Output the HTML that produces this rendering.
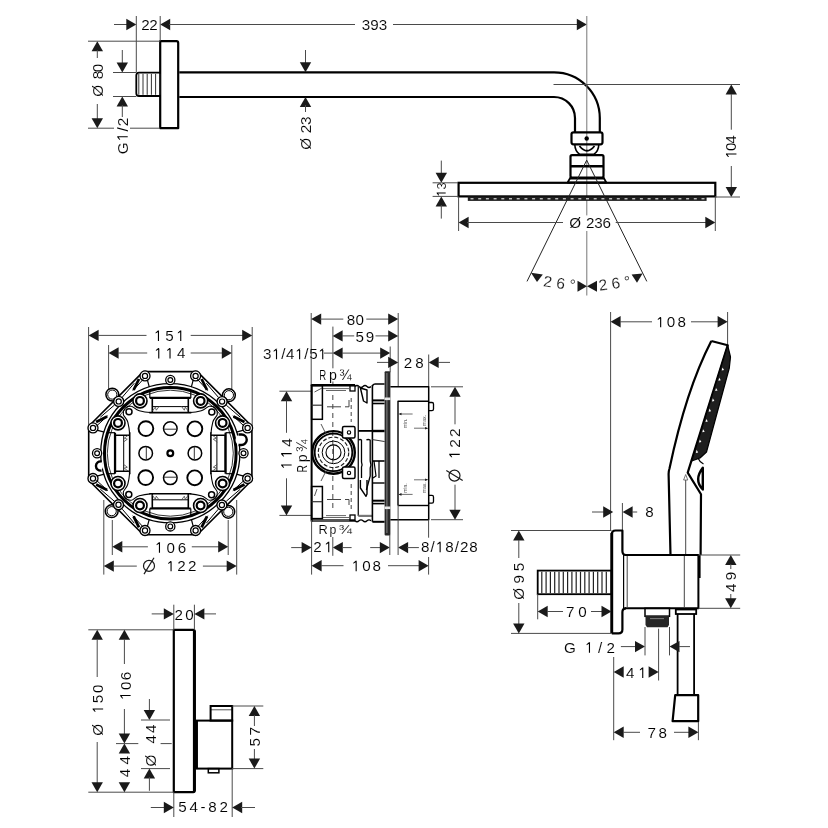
<!DOCTYPE html>
<html><head><meta charset="utf-8"><style>
html,body{margin:0;padding:0;background:#fff;width:828px;height:828px;overflow:hidden}
svg{display:block;will-change:transform}
text{font-family:"Liberation Sans",sans-serif;stroke:#fff;stroke-width:0.1px}
</style></head><body>
<svg width="828" height="828" viewBox="0 0 828 828">
<rect width="828" height="828" fill="#fff"/>
<path d="M160.2,128.2 V41.2 H176.5 Q178.2,41.2 178.2,43 V128.2 Z" stroke="#000" stroke-width="2.2" fill="none" stroke-linejoin="round" />
<path d="M160,72.6 H139 Q136.3,72.6 136.3,75.5 V93.2 Q136.3,96 139,96 H160" stroke="#000" stroke-width="1.8" fill="none" stroke-linejoin="round" />
<line x1="138.80" y1="73.80" x2="138.80" y2="94.80" stroke="#333" stroke-width="1.0"/>
<line x1="143.00" y1="73.80" x2="143.00" y2="94.80" stroke="#333" stroke-width="1.0"/>
<line x1="147.20" y1="73.80" x2="147.20" y2="94.80" stroke="#333" stroke-width="1.0"/>
<line x1="151.40" y1="73.80" x2="151.40" y2="94.80" stroke="#333" stroke-width="1.0"/>
<line x1="155.60" y1="73.80" x2="155.60" y2="94.80" stroke="#333" stroke-width="1.0"/>
<line x1="159.80" y1="73.80" x2="159.80" y2="94.80" stroke="#333" stroke-width="1.0"/>
<path d="M179.3,72.3 H554 A45.8,45.8 0 0 1 599.8,118 V132" stroke="#000" stroke-width="2.2" fill="none" stroke-linejoin="round" />
<path d="M179.3,97 H554 A21,21 0 0 1 575,118 V132" stroke="#000" stroke-width="2.2" fill="none" stroke-linejoin="round" />
<line x1="114.00" y1="24.50" x2="127.00" y2="24.50" stroke="#4a4a4a" stroke-width="1.0"/>
<path d="M136.30,24.50 L126.30,30.20 L126.30,18.80 Z" fill="#1a1a1a"/>
<text x="141.14" y="30.44" font-size="15.2" fill="#000" letter-spacing="-0.382">22</text>
<path d="M160.20,24.50 L170.20,18.80 L170.20,30.20 Z" fill="#1a1a1a"/>
<line x1="169.00" y1="24.50" x2="355.00" y2="24.50" stroke="#4a4a4a" stroke-width="1.0"/>
<text x="361.82" y="30.24" font-size="15.2" fill="#000">393</text>
<line x1="393.00" y1="24.50" x2="578.00" y2="24.50" stroke="#4a4a4a" stroke-width="1.0"/>
<path d="M586.80,24.50 L576.80,30.20 L576.80,18.80 Z" fill="#1a1a1a"/>
<line x1="136.30" y1="16.00" x2="136.30" y2="72.50" stroke="#4a4a4a" stroke-width="1.0"/>
<line x1="160.20" y1="16.00" x2="160.20" y2="41.00" stroke="#4a4a4a" stroke-width="1.0"/>
<line x1="586.80" y1="16.00" x2="586.80" y2="215.40" stroke="#777" stroke-width="1"/>
<line x1="586.80" y1="231.00" x2="586.80" y2="295.50" stroke="#777" stroke-width="1"/>
<line x1="553.50" y1="84.50" x2="740.00" y2="84.50" stroke="#4a4a4a" stroke-width="1.0"/>
<path d="M97.30,41.20 L103.00,51.20 L91.60,51.20 Z" fill="#1a1a1a"/>
<line x1="97.30" y1="50.00" x2="97.30" y2="58.00" stroke="#4a4a4a" stroke-width="1.0"/>
<line x1="97.30" y1="104.00" x2="97.30" y2="119.00" stroke="#4a4a4a" stroke-width="1.0"/>
<path d="M97.30,128.20 L91.60,118.20 L103.00,118.20 Z" fill="#1a1a1a"/>
<line x1="88.00" y1="41.20" x2="160.00" y2="41.20" stroke="#4a4a4a" stroke-width="1.0"/>
<line x1="88.00" y1="128.20" x2="114.00" y2="128.20" stroke="#4a4a4a" stroke-width="1.0"/>
<line x1="130.00" y1="128.20" x2="160.00" y2="128.20" stroke="#4a4a4a" stroke-width="1.0"/>
<text x="97.05" y="83.74" font-size="15.2" fill="#000" letter-spacing="-1.656" transform="rotate(-90 97.70 78.50)">80</text>
<text x="97.17" y="101.44" font-size="15.2" fill="#000" transform="rotate(-90 97.70 96.20)">Ø</text>
<line x1="122.30" y1="50.00" x2="122.30" y2="63.00" stroke="#4a4a4a" stroke-width="1.0"/>
<path d="M122.30,72.50 L116.60,62.50 L128.00,62.50 Z" fill="#1a1a1a"/>
<path d="M122.30,96.50 L128.00,106.50 L116.60,106.50 Z" fill="#1a1a1a"/>
<line x1="122.30" y1="105.00" x2="122.30" y2="117.00" stroke="#4a4a4a" stroke-width="1.0"/>
<line x1="113.00" y1="72.50" x2="136.30" y2="72.50" stroke="#4a4a4a" stroke-width="1.0"/>
<line x1="113.00" y1="96.50" x2="136.30" y2="96.50" stroke="#4a4a4a" stroke-width="1.0"/>
<text x="121.74" y="158.64" font-size="15.2" fill="#000" letter-spacing="1.155" transform="rotate(-90 122.50 153.40)">G /2</text>
<path d="M138.53,158.64 h1.12 v-10.46 h-1.12 Z M139.87,148.19 L138.53,148.19 L136.24,150.21 L136.24,151.20 L138.67,149.68 Z" fill="#000" transform="rotate(-90 122.50 153.40)"/>
<line x1="305.50" y1="50.00" x2="305.50" y2="63.00" stroke="#4a4a4a" stroke-width="1.0"/>
<path d="M305.50,72.30 L299.80,62.30 L311.20,62.30 Z" fill="#1a1a1a"/>
<path d="M305.50,97.00 L311.20,107.00 L299.80,107.00 Z" fill="#1a1a1a"/>
<line x1="305.50" y1="105.00" x2="305.50" y2="112.00" stroke="#4a4a4a" stroke-width="1.0"/>
<text x="304.94" y="137.74" font-size="15.2" fill="#000" letter-spacing="-0.274" transform="rotate(-90 305.70 132.50)">23</text>
<text x="305.17" y="154.34" font-size="15.2" fill="#000" transform="rotate(-90 305.70 149.10)">Ø</text>
<rect x="571.50" y="132.30" width="31.00" height="12.00" rx="2" stroke="#000" stroke-width="2.2" fill="none"/>
<circle cx="586.70" cy="138.50" r="2.20" stroke="#000" stroke-width="0" fill="#000"/>
<path d="M574.8,144.5 Q575,151 579.5,154.2 H594 Q598.6,151 598.8,144.5" stroke="#000" stroke-width="1.6" fill="none" stroke-linejoin="round" />
<path d="M579.5,146 Q587,155.5 594.5,146" stroke="#000" stroke-width="1.8" fill="none" stroke-linejoin="round" />
<rect x="570.50" y="155.20" width="33.00" height="22.40" rx="1.5" stroke="#000" stroke-width="2.2" fill="none"/>
<line x1="570.50" y1="166.20" x2="603.50" y2="166.20" stroke="#000" stroke-width="2.6"/>
<path d="M570.5,177.4 L567.6,182.5 H606.3 L603.5,177.4" stroke="#000" stroke-width="1.8" fill="none" stroke-linejoin="round" />
<line x1="570.00" y1="178.60" x2="604.00" y2="178.60" stroke="#000" stroke-width="1.6"/>
<rect x="458.60" y="182.80" width="256.70" height="13.60" rx="0" stroke="#000" stroke-width="2.2" fill="none"/>
<rect x="467.8" y="196.5" width="238.8" height="4.4" fill="#1e1e1e"/>
<rect x="470.5" y="198.1" width="3" height="1.3" fill="#ccc"/>
<rect x="478.2" y="198.1" width="3" height="1.3" fill="#ccc"/>
<rect x="485.9" y="198.1" width="3" height="1.3" fill="#ccc"/>
<rect x="493.6" y="198.1" width="3" height="1.3" fill="#ccc"/>
<rect x="501.3" y="198.1" width="3" height="1.3" fill="#ccc"/>
<rect x="509.0" y="198.1" width="3" height="1.3" fill="#ccc"/>
<rect x="516.7" y="198.1" width="3" height="1.3" fill="#ccc"/>
<rect x="524.4" y="198.1" width="3" height="1.3" fill="#ccc"/>
<rect x="532.1" y="198.1" width="3" height="1.3" fill="#ccc"/>
<rect x="539.8" y="198.1" width="3" height="1.3" fill="#ccc"/>
<rect x="547.5" y="198.1" width="3" height="1.3" fill="#ccc"/>
<rect x="555.2" y="198.1" width="3" height="1.3" fill="#ccc"/>
<rect x="562.9" y="198.1" width="3" height="1.3" fill="#ccc"/>
<rect x="570.6" y="198.1" width="3" height="1.3" fill="#ccc"/>
<rect x="578.3" y="198.1" width="3" height="1.3" fill="#ccc"/>
<rect x="586.0" y="198.1" width="3" height="1.3" fill="#ccc"/>
<rect x="593.7" y="198.1" width="3" height="1.3" fill="#ccc"/>
<rect x="601.4" y="198.1" width="3" height="1.3" fill="#ccc"/>
<rect x="609.1" y="198.1" width="3" height="1.3" fill="#ccc"/>
<rect x="616.8" y="198.1" width="3" height="1.3" fill="#ccc"/>
<rect x="624.5" y="198.1" width="3" height="1.3" fill="#ccc"/>
<rect x="632.2" y="198.1" width="3" height="1.3" fill="#ccc"/>
<rect x="639.9" y="198.1" width="3" height="1.3" fill="#ccc"/>
<rect x="647.6" y="198.1" width="3" height="1.3" fill="#ccc"/>
<rect x="655.3" y="198.1" width="3" height="1.3" fill="#ccc"/>
<rect x="663.0" y="198.1" width="3" height="1.3" fill="#ccc"/>
<rect x="670.7" y="198.1" width="3" height="1.3" fill="#ccc"/>
<rect x="678.4" y="198.1" width="3" height="1.3" fill="#ccc"/>
<rect x="686.1" y="198.1" width="3" height="1.3" fill="#ccc"/>
<rect x="693.8" y="198.1" width="3" height="1.3" fill="#ccc"/>
<rect x="701.5" y="198.1" width="3" height="1.3" fill="#ccc"/>
<line x1="586.70" y1="160.20" x2="527.00" y2="281.40" stroke="#222" stroke-width="1"/>
<line x1="586.70" y1="160.20" x2="646.80" y2="281.40" stroke="#222" stroke-width="1"/>
<line x1="441.30" y1="160.60" x2="441.30" y2="174.00" stroke="#4a4a4a" stroke-width="1.0"/>
<path d="M441.30,182.80 L435.60,172.80 L447.00,172.80 Z" fill="#1a1a1a"/>
<path d="M441.30,196.40 L447.00,206.40 L435.60,206.40 Z" fill="#1a1a1a"/>
<line x1="441.30" y1="205.00" x2="441.30" y2="218.60" stroke="#4a4a4a" stroke-width="1.0"/>
<line x1="432.60" y1="182.80" x2="458.00" y2="182.80" stroke="#4a4a4a" stroke-width="1.0"/>
<line x1="432.60" y1="196.40" x2="458.00" y2="196.40" stroke="#4a4a4a" stroke-width="1.0"/>
<text x="439.90" y="199.88" font-size="13" fill="#000" letter-spacing="-0.084" transform="rotate(-90 441.20 195.40)"> 3</text>
<path d="M443.16,199.88 h0.96 v-8.94 h-0.96 Z M444.31,190.94 L443.16,190.94 L441.20,192.67 L441.20,193.51 L443.28,192.22 Z" fill="#000" transform="rotate(-90 441.20 195.40)"/>
<path d="M458.60,222.50 L468.60,216.80 L468.60,228.20 Z" fill="#1a1a1a"/>
<line x1="467.00" y1="222.50" x2="563.00" y2="222.50" stroke="#4a4a4a" stroke-width="1.0"/>
<text x="569.27" y="228.14" font-size="15.2" fill="#000">Ø</text>
<text x="586.04" y="228.14" font-size="15.2" fill="#000" letter-spacing="-0.162">236</text>
<line x1="615.70" y1="222.50" x2="706.00" y2="222.50" stroke="#4a4a4a" stroke-width="1.0"/>
<path d="M715.30,222.50 L705.30,228.20 L705.30,216.80 Z" fill="#1a1a1a"/>
<line x1="458.60" y1="196.40" x2="458.60" y2="231.00" stroke="#4a4a4a" stroke-width="1.0"/>
<line x1="715.30" y1="196.40" x2="715.30" y2="231.00" stroke="#4a4a4a" stroke-width="1.0"/>
<path d="M731.30,84.50 L737.00,94.50 L725.60,94.50 Z" fill="#1a1a1a"/>
<line x1="731.30" y1="94.00" x2="731.30" y2="129.70" stroke="#4a4a4a" stroke-width="1.0"/>
<line x1="731.30" y1="166.00" x2="731.30" y2="188.00" stroke="#4a4a4a" stroke-width="1.0"/>
<path d="M731.30,197.00 L725.60,187.00 L737.00,187.00 Z" fill="#1a1a1a"/>
<line x1="715.00" y1="197.00" x2="740.00" y2="197.00" stroke="#4a4a4a" stroke-width="1.0"/>
<text x="729.68" y="162.14" font-size="15.2" fill="#000" letter-spacing="-1.096" transform="rotate(-90 731.20 156.90)"> 04</text>
<path d="M733.50,162.14 h1.12 v-10.46 h-1.12 Z M734.83,151.69 L733.50,151.69 L731.20,153.71 L731.20,154.70 L733.63,153.18 Z" fill="#000" transform="rotate(-90 731.20 156.90)"/>
<path d="M531.00,272.70 L542.80,274.40 L537.00,282.00 Z" fill="#1a1a1a"/>
<path d="M631.60,274.40 L642.60,273.50 L637.00,282.80 Z" fill="#1a1a1a"/>
<path d="M577.50,280.70 L577.50,291.70 L587.00,286.20 Z" fill="#1a1a1a"/>
<path d="M597.00,280.70 L597.00,291.70 L587.00,286.20 Z" fill="#1a1a1a"/>
<text x="559.50" y="288.55" font-size="15.5" text-anchor="middle" fill="#1a1a1a" transform="rotate(8 559.50 283.00)">2 6 °</text>
<text x="614.50" y="288.55" font-size="15.5" text-anchor="middle" fill="#1a1a1a" transform="rotate(-8 614.50 283.00)">2 6 °</text>
<line x1="88.60" y1="327.00" x2="88.60" y2="426.00" stroke="#4a4a4a" stroke-width="1.0"/>
<line x1="252.20" y1="327.00" x2="252.20" y2="426.00" stroke="#4a4a4a" stroke-width="1.0"/>
<path d="M88.60,335.40 L98.60,329.70 L98.60,341.10 Z" fill="#1a1a1a"/>
<line x1="98.00" y1="335.40" x2="146.50" y2="335.40" stroke="#4a4a4a" stroke-width="1.0"/>
<text x="154.08" y="340.94" font-size="15.2" fill="#000" letter-spacing="2.686"> 5 </text>
<path d="M157.90,340.94 h1.12 v-10.46 h-1.12 Z M159.23,330.49 L157.90,330.49 L155.60,332.51 L155.60,333.50 L158.03,331.98 Z M180.18,340.94 h1.12 v-10.46 h-1.12 Z M181.51,330.49 L180.18,330.49 L177.88,332.51 L177.88,333.50 L180.31,331.98 Z" fill="#000"/>
<line x1="190.70" y1="335.40" x2="243.00" y2="335.40" stroke="#4a4a4a" stroke-width="1.0"/>
<path d="M252.20,335.40 L242.20,341.10 L242.20,329.70 Z" fill="#1a1a1a"/>
<line x1="108.60" y1="345.00" x2="108.60" y2="390.00" stroke="#4a4a4a" stroke-width="1.0"/>
<line x1="231.80" y1="345.00" x2="231.80" y2="390.00" stroke="#4a4a4a" stroke-width="1.0"/>
<path d="M108.60,353.00 L118.60,347.30 L118.60,358.70 Z" fill="#1a1a1a"/>
<line x1="118.00" y1="353.00" x2="147.20" y2="353.00" stroke="#4a4a4a" stroke-width="1.0"/>
<text x="154.38" y="358.44" font-size="15.2" fill="#000" letter-spacing="2.816">  4</text>
<path d="M158.20,358.44 h1.12 v-10.46 h-1.12 Z M159.53,347.99 L158.20,347.99 L155.90,350.01 L155.90,351.00 L158.33,349.48 Z M169.46,358.44 h1.12 v-10.46 h-1.12 Z M170.80,347.99 L169.46,347.99 L167.17,350.01 L167.17,351.00 L169.60,349.48 Z" fill="#000"/>
<line x1="190.70" y1="353.00" x2="222.00" y2="353.00" stroke="#4a4a4a" stroke-width="1.0"/>
<path d="M231.80,353.00 L221.80,358.70 L221.80,347.30 Z" fill="#1a1a1a"/>
<line x1="112.30" y1="520.00" x2="112.30" y2="555.00" stroke="#4a4a4a" stroke-width="1.0"/>
<line x1="228.20" y1="520.00" x2="228.20" y2="555.00" stroke="#4a4a4a" stroke-width="1.0"/>
<path d="M112.30,546.80 L122.30,541.10 L122.30,552.50 Z" fill="#1a1a1a"/>
<line x1="121.00" y1="546.80" x2="147.90" y2="546.80" stroke="#4a4a4a" stroke-width="1.0"/>
<text x="155.08" y="552.74" font-size="15.2" fill="#000" letter-spacing="2.918"> 06</text>
<path d="M158.90,552.74 h1.12 v-10.46 h-1.12 Z M160.23,542.29 L158.90,542.29 L156.60,544.31 L156.60,545.30 L159.03,543.78 Z" fill="#000"/>
<line x1="191.80" y1="546.80" x2="219.00" y2="546.80" stroke="#4a4a4a" stroke-width="1.0"/>
<path d="M228.20,546.80 L218.20,552.50 L218.20,541.10 Z" fill="#1a1a1a"/>
<line x1="103.80" y1="500.00" x2="103.80" y2="574.60" stroke="#4a4a4a" stroke-width="1.0"/>
<line x1="236.70" y1="500.00" x2="236.70" y2="574.60" stroke="#4a4a4a" stroke-width="1.0"/>
<path d="M103.80,566.10 L113.80,560.40 L113.80,571.80 Z" fill="#1a1a1a"/>
<line x1="113.00" y1="566.10" x2="136.80" y2="566.10" stroke="#4a4a4a" stroke-width="1.0"/>
<circle cx="149.00" cy="565.90" r="5.5" stroke="#1a1a1a" stroke-width="1.2" fill="none"/>
<line x1="144.00" y1="574.10" x2="154.00" y2="557.70" stroke="#1a1a1a" stroke-width="1.2"/>
<text x="166.68" y="571.34" font-size="15.2" fill="#000" letter-spacing="2.213"> 22</text>
<path d="M170.50,571.34 h1.12 v-10.46 h-1.12 Z M171.83,560.89 L170.50,560.89 L168.20,562.91 L168.20,563.90 L170.63,562.38 Z" fill="#000"/>
<line x1="202.90" y1="566.10" x2="227.00" y2="566.10" stroke="#4a4a4a" stroke-width="1.0"/>
<path d="M236.70,566.10 L226.70,571.80 L226.70,560.40 Z" fill="#1a1a1a"/>
<g transform="rotate(0 170.3 453.2)">
<circle cx="112.30" cy="394.60" r="6.40" stroke="#000" stroke-width="1.5" fill="#fff"/>
<circle cx="112.30" cy="394.60" r="4.60" stroke="#000" stroke-width="1.0" fill="none"/>
</g>
<g transform="rotate(90 170.3 453.2)">
<circle cx="112.30" cy="394.60" r="6.40" stroke="#000" stroke-width="1.5" fill="#fff"/>
<circle cx="112.30" cy="394.60" r="4.60" stroke="#000" stroke-width="1.0" fill="none"/>
</g>
<g transform="rotate(180 170.3 453.2)">
<circle cx="112.30" cy="394.60" r="6.40" stroke="#000" stroke-width="1.5" fill="#fff"/>
<circle cx="112.30" cy="394.60" r="4.60" stroke="#000" stroke-width="1.0" fill="none"/>
</g>
<g transform="rotate(270 170.3 453.2)">
<circle cx="112.30" cy="394.60" r="6.40" stroke="#000" stroke-width="1.5" fill="#fff"/>
<circle cx="112.30" cy="394.60" r="4.60" stroke="#000" stroke-width="1.0" fill="none"/>
</g>
<path d="M143.30,371.60 L197.30,371.60 L251.90,426.20 L251.90,480.20 L197.30,534.80 L143.30,534.80 L88.70,480.20 L88.70,426.20 Z" stroke="#000" stroke-width="1.6" fill="#fff" stroke-linejoin="round" />
<circle cx="170.30" cy="453.20" r="65.80" stroke="#000" stroke-width="3.0" fill="none"/>
<circle cx="170.30" cy="453.20" r="69.60" stroke="#000" stroke-width="1.3" fill="none"/>
<circle cx="170.30" cy="453.20" r="63.00" stroke="#000" stroke-width="0.8" fill="none"/>
<g transform="rotate(0 170.3 453.2)">
<circle cx="170.30" cy="380.00" r="4.60" stroke="#000" stroke-width="1.3" fill="#fff"/>
<circle cx="170.30" cy="380.00" r="2.40" stroke="#000" stroke-width="1.2" fill="none"/>
<path d="M149.3,412.59999999999997 H191.3 M152.3,412.59999999999997 V398.2 H188.3 V412.59999999999997" stroke="#000" stroke-width="1.6" fill="none" stroke-linejoin="round" />
<line x1="149.80" y1="397.90" x2="190.80" y2="397.90" stroke="#000" stroke-width="2.2"/>
<line x1="152.30" y1="406.60" x2="188.30" y2="406.60" stroke="#000" stroke-width="1.0"/>
<line x1="149.80" y1="391.20" x2="149.80" y2="397.90" stroke="#000" stroke-width="1.2"/>
<line x1="190.80" y1="391.20" x2="190.80" y2="397.90" stroke="#000" stroke-width="1.2"/>
<circle cx="145.90" cy="428.60" r="7.40" stroke="#000" stroke-width="1.9" fill="none"/>
<circle cx="170.30" cy="428.60" r="6.80" stroke="#000" stroke-width="1.5" fill="none"/>
<line x1="163.80" y1="429.20" x2="176.80" y2="429.20" stroke="#333" stroke-width="1.0"/>
</g>
<g transform="rotate(90 170.3 453.2)">
<circle cx="170.30" cy="380.00" r="4.60" stroke="#000" stroke-width="1.3" fill="#fff"/>
<circle cx="170.30" cy="380.00" r="2.40" stroke="#000" stroke-width="1.2" fill="none"/>
<path d="M149.3,412.59999999999997 H191.3 M152.3,412.59999999999997 V398.2 H188.3 V412.59999999999997" stroke="#000" stroke-width="1.6" fill="none" stroke-linejoin="round" />
<line x1="149.80" y1="397.90" x2="190.80" y2="397.90" stroke="#000" stroke-width="2.2"/>
<line x1="152.30" y1="406.60" x2="188.30" y2="406.60" stroke="#000" stroke-width="1.0"/>
<line x1="149.80" y1="391.20" x2="149.80" y2="397.90" stroke="#000" stroke-width="1.2"/>
<line x1="190.80" y1="391.20" x2="190.80" y2="397.90" stroke="#000" stroke-width="1.2"/>
<circle cx="145.90" cy="428.60" r="7.40" stroke="#000" stroke-width="1.9" fill="none"/>
<circle cx="170.30" cy="428.60" r="6.80" stroke="#000" stroke-width="1.5" fill="none"/>
<line x1="163.80" y1="429.20" x2="176.80" y2="429.20" stroke="#333" stroke-width="1.0"/>
</g>
<g transform="rotate(180 170.3 453.2)">
<circle cx="170.30" cy="380.00" r="4.60" stroke="#000" stroke-width="1.3" fill="#fff"/>
<circle cx="170.30" cy="380.00" r="2.40" stroke="#000" stroke-width="1.2" fill="none"/>
<path d="M149.3,412.59999999999997 H191.3 M152.3,412.59999999999997 V398.2 H188.3 V412.59999999999997" stroke="#000" stroke-width="1.6" fill="none" stroke-linejoin="round" />
<line x1="149.80" y1="397.90" x2="190.80" y2="397.90" stroke="#000" stroke-width="2.2"/>
<line x1="152.30" y1="406.60" x2="188.30" y2="406.60" stroke="#000" stroke-width="1.0"/>
<line x1="149.80" y1="391.20" x2="149.80" y2="397.90" stroke="#000" stroke-width="1.2"/>
<line x1="190.80" y1="391.20" x2="190.80" y2="397.90" stroke="#000" stroke-width="1.2"/>
<circle cx="145.90" cy="428.60" r="7.40" stroke="#000" stroke-width="1.9" fill="none"/>
<circle cx="170.30" cy="428.60" r="6.80" stroke="#000" stroke-width="1.5" fill="none"/>
<line x1="163.80" y1="429.20" x2="176.80" y2="429.20" stroke="#333" stroke-width="1.0"/>
</g>
<g transform="rotate(270 170.3 453.2)">
<circle cx="170.30" cy="380.00" r="4.60" stroke="#000" stroke-width="1.3" fill="#fff"/>
<circle cx="170.30" cy="380.00" r="2.40" stroke="#000" stroke-width="1.2" fill="none"/>
<path d="M149.3,412.59999999999997 H191.3 M152.3,412.59999999999997 V398.2 H188.3 V412.59999999999997" stroke="#000" stroke-width="1.6" fill="none" stroke-linejoin="round" />
<line x1="149.80" y1="397.90" x2="190.80" y2="397.90" stroke="#000" stroke-width="2.2"/>
<line x1="152.30" y1="406.60" x2="188.30" y2="406.60" stroke="#000" stroke-width="1.0"/>
<line x1="149.80" y1="391.20" x2="149.80" y2="397.90" stroke="#000" stroke-width="1.2"/>
<line x1="190.80" y1="391.20" x2="190.80" y2="397.90" stroke="#000" stroke-width="1.2"/>
<circle cx="145.90" cy="428.60" r="7.40" stroke="#000" stroke-width="1.9" fill="none"/>
<circle cx="170.30" cy="428.60" r="6.80" stroke="#000" stroke-width="1.5" fill="none"/>
<line x1="163.80" y1="429.20" x2="176.80" y2="429.20" stroke="#333" stroke-width="1.0"/>
</g>
<g transform="rotate(0 170.3 453.2)">
<circle cx="118.70" cy="401.40" r="5.00" stroke="#000" stroke-width="1.4" fill="#fff"/>
<circle cx="118.70" cy="401.40" r="2.60" stroke="#000" stroke-width="1.2" fill="none"/>
<circle cx="145.00" cy="375.90" r="5.00" stroke="#000" stroke-width="1.3" fill="#fff"/>
<circle cx="145.00" cy="375.90" r="2.60" stroke="#000" stroke-width="1.2" fill="none"/>
<circle cx="93.00" cy="427.90" r="5.00" stroke="#000" stroke-width="1.3" fill="#fff"/>
<circle cx="93.00" cy="427.90" r="2.60" stroke="#000" stroke-width="1.2" fill="none"/>
<line x1="147.30" y1="379.70" x2="149.30" y2="387.20" stroke="#000" stroke-width="1.2"/>
<line x1="96.80" y1="430.20" x2="104.30" y2="432.20" stroke="#000" stroke-width="1.2"/>
<line x1="139.00" y1="379.00" x2="133.60" y2="390.00" stroke="#000" stroke-width="2.8"/>
<line x1="96.10" y1="421.90" x2="107.10" y2="416.50" stroke="#000" stroke-width="2.8"/>
<path d="M143.3,379.2 L132.8,390.7 M96.30000000000001,426.2 L107.80000000000001,415.7" stroke="#000" stroke-width="1.0" fill="none" stroke-linejoin="round" />
<path d="M122.30000000000001,397.2 L134.3,383.2 M114.30000000000001,405.2 L100.30000000000001,417.2" stroke="#000" stroke-width="1.0" fill="none" stroke-linejoin="round" />
<circle cx="140.00" cy="400.90" r="7.00" stroke="#000" stroke-width="1.6" fill="#fff"/>
<circle cx="140.00" cy="400.90" r="3.90" stroke="#000" stroke-width="2.2" fill="none"/>
<circle cx="118.00" cy="422.90" r="7.00" stroke="#000" stroke-width="1.6" fill="#fff"/>
<circle cx="118.00" cy="422.90" r="3.90" stroke="#000" stroke-width="2.2" fill="none"/>
<circle cx="129.00" cy="411.70" r="3.00" stroke="#000" stroke-width="1.5" fill="none"/>
<path d="M150.3,412.5 C146.3,412.2 143.3,411.7 139.3,410.7 C135.3,409.7 133.3,406.2 131.3,406.2 C126.30000000000001,405.7 122.80000000000001,409.2 123.30000000000001,414.2 C123.30000000000001,416.2 126.80000000000001,418.2 127.80000000000001,422.2 C128.8,426.2 129.3,429.2 129.60000000000002,433.2" stroke="#000" stroke-width="1.1" fill="none" stroke-linejoin="round" />
<path d="M152.3,411.2 l3,-4 l1,3 l3,-4 M128.3,435.2 l-4,3 l3,1 l-4,3" stroke="#444" stroke-width="0.8" fill="none" stroke-linejoin="round" />
</g>
<g transform="rotate(90 170.3 453.2)">
<circle cx="118.70" cy="401.40" r="5.00" stroke="#000" stroke-width="1.4" fill="#fff"/>
<circle cx="118.70" cy="401.40" r="2.60" stroke="#000" stroke-width="1.2" fill="none"/>
<circle cx="145.00" cy="375.90" r="5.00" stroke="#000" stroke-width="1.3" fill="#fff"/>
<circle cx="145.00" cy="375.90" r="2.60" stroke="#000" stroke-width="1.2" fill="none"/>
<circle cx="93.00" cy="427.90" r="5.00" stroke="#000" stroke-width="1.3" fill="#fff"/>
<circle cx="93.00" cy="427.90" r="2.60" stroke="#000" stroke-width="1.2" fill="none"/>
<line x1="147.30" y1="379.70" x2="149.30" y2="387.20" stroke="#000" stroke-width="1.2"/>
<line x1="96.80" y1="430.20" x2="104.30" y2="432.20" stroke="#000" stroke-width="1.2"/>
<line x1="139.00" y1="379.00" x2="133.60" y2="390.00" stroke="#000" stroke-width="2.8"/>
<line x1="96.10" y1="421.90" x2="107.10" y2="416.50" stroke="#000" stroke-width="2.8"/>
<path d="M143.3,379.2 L132.8,390.7 M96.30000000000001,426.2 L107.80000000000001,415.7" stroke="#000" stroke-width="1.0" fill="none" stroke-linejoin="round" />
<path d="M122.30000000000001,397.2 L134.3,383.2 M114.30000000000001,405.2 L100.30000000000001,417.2" stroke="#000" stroke-width="1.0" fill="none" stroke-linejoin="round" />
<circle cx="140.00" cy="400.90" r="7.00" stroke="#000" stroke-width="1.6" fill="#fff"/>
<circle cx="140.00" cy="400.90" r="3.90" stroke="#000" stroke-width="2.2" fill="none"/>
<circle cx="118.00" cy="422.90" r="7.00" stroke="#000" stroke-width="1.6" fill="#fff"/>
<circle cx="118.00" cy="422.90" r="3.90" stroke="#000" stroke-width="2.2" fill="none"/>
<circle cx="129.00" cy="411.70" r="3.00" stroke="#000" stroke-width="1.5" fill="none"/>
<path d="M150.3,412.5 C146.3,412.2 143.3,411.7 139.3,410.7 C135.3,409.7 133.3,406.2 131.3,406.2 C126.30000000000001,405.7 122.80000000000001,409.2 123.30000000000001,414.2 C123.30000000000001,416.2 126.80000000000001,418.2 127.80000000000001,422.2 C128.8,426.2 129.3,429.2 129.60000000000002,433.2" stroke="#000" stroke-width="1.1" fill="none" stroke-linejoin="round" />
<path d="M152.3,411.2 l3,-4 l1,3 l3,-4 M128.3,435.2 l-4,3 l3,1 l-4,3" stroke="#444" stroke-width="0.8" fill="none" stroke-linejoin="round" />
</g>
<g transform="rotate(180 170.3 453.2)">
<circle cx="118.70" cy="401.40" r="5.00" stroke="#000" stroke-width="1.4" fill="#fff"/>
<circle cx="118.70" cy="401.40" r="2.60" stroke="#000" stroke-width="1.2" fill="none"/>
<circle cx="145.00" cy="375.90" r="5.00" stroke="#000" stroke-width="1.3" fill="#fff"/>
<circle cx="145.00" cy="375.90" r="2.60" stroke="#000" stroke-width="1.2" fill="none"/>
<circle cx="93.00" cy="427.90" r="5.00" stroke="#000" stroke-width="1.3" fill="#fff"/>
<circle cx="93.00" cy="427.90" r="2.60" stroke="#000" stroke-width="1.2" fill="none"/>
<line x1="147.30" y1="379.70" x2="149.30" y2="387.20" stroke="#000" stroke-width="1.2"/>
<line x1="96.80" y1="430.20" x2="104.30" y2="432.20" stroke="#000" stroke-width="1.2"/>
<line x1="139.00" y1="379.00" x2="133.60" y2="390.00" stroke="#000" stroke-width="2.8"/>
<line x1="96.10" y1="421.90" x2="107.10" y2="416.50" stroke="#000" stroke-width="2.8"/>
<path d="M143.3,379.2 L132.8,390.7 M96.30000000000001,426.2 L107.80000000000001,415.7" stroke="#000" stroke-width="1.0" fill="none" stroke-linejoin="round" />
<path d="M122.30000000000001,397.2 L134.3,383.2 M114.30000000000001,405.2 L100.30000000000001,417.2" stroke="#000" stroke-width="1.0" fill="none" stroke-linejoin="round" />
<circle cx="140.00" cy="400.90" r="7.00" stroke="#000" stroke-width="1.6" fill="#fff"/>
<circle cx="140.00" cy="400.90" r="3.90" stroke="#000" stroke-width="2.2" fill="none"/>
<circle cx="118.00" cy="422.90" r="7.00" stroke="#000" stroke-width="1.6" fill="#fff"/>
<circle cx="118.00" cy="422.90" r="3.90" stroke="#000" stroke-width="2.2" fill="none"/>
<circle cx="129.00" cy="411.70" r="3.00" stroke="#000" stroke-width="1.5" fill="none"/>
<path d="M150.3,412.5 C146.3,412.2 143.3,411.7 139.3,410.7 C135.3,409.7 133.3,406.2 131.3,406.2 C126.30000000000001,405.7 122.80000000000001,409.2 123.30000000000001,414.2 C123.30000000000001,416.2 126.80000000000001,418.2 127.80000000000001,422.2 C128.8,426.2 129.3,429.2 129.60000000000002,433.2" stroke="#000" stroke-width="1.1" fill="none" stroke-linejoin="round" />
<path d="M152.3,411.2 l3,-4 l1,3 l3,-4 M128.3,435.2 l-4,3 l3,1 l-4,3" stroke="#444" stroke-width="0.8" fill="none" stroke-linejoin="round" />
</g>
<g transform="rotate(270 170.3 453.2)">
<circle cx="118.70" cy="401.40" r="5.00" stroke="#000" stroke-width="1.4" fill="#fff"/>
<circle cx="118.70" cy="401.40" r="2.60" stroke="#000" stroke-width="1.2" fill="none"/>
<circle cx="145.00" cy="375.90" r="5.00" stroke="#000" stroke-width="1.3" fill="#fff"/>
<circle cx="145.00" cy="375.90" r="2.60" stroke="#000" stroke-width="1.2" fill="none"/>
<circle cx="93.00" cy="427.90" r="5.00" stroke="#000" stroke-width="1.3" fill="#fff"/>
<circle cx="93.00" cy="427.90" r="2.60" stroke="#000" stroke-width="1.2" fill="none"/>
<line x1="147.30" y1="379.70" x2="149.30" y2="387.20" stroke="#000" stroke-width="1.2"/>
<line x1="96.80" y1="430.20" x2="104.30" y2="432.20" stroke="#000" stroke-width="1.2"/>
<line x1="139.00" y1="379.00" x2="133.60" y2="390.00" stroke="#000" stroke-width="2.8"/>
<line x1="96.10" y1="421.90" x2="107.10" y2="416.50" stroke="#000" stroke-width="2.8"/>
<path d="M143.3,379.2 L132.8,390.7 M96.30000000000001,426.2 L107.80000000000001,415.7" stroke="#000" stroke-width="1.0" fill="none" stroke-linejoin="round" />
<path d="M122.30000000000001,397.2 L134.3,383.2 M114.30000000000001,405.2 L100.30000000000001,417.2" stroke="#000" stroke-width="1.0" fill="none" stroke-linejoin="round" />
<circle cx="140.00" cy="400.90" r="7.00" stroke="#000" stroke-width="1.6" fill="#fff"/>
<circle cx="140.00" cy="400.90" r="3.90" stroke="#000" stroke-width="2.2" fill="none"/>
<circle cx="118.00" cy="422.90" r="7.00" stroke="#000" stroke-width="1.6" fill="#fff"/>
<circle cx="118.00" cy="422.90" r="3.90" stroke="#000" stroke-width="2.2" fill="none"/>
<circle cx="129.00" cy="411.70" r="3.00" stroke="#000" stroke-width="1.5" fill="none"/>
<path d="M150.3,412.5 C146.3,412.2 143.3,411.7 139.3,410.7 C135.3,409.7 133.3,406.2 131.3,406.2 C126.30000000000001,405.7 122.80000000000001,409.2 123.30000000000001,414.2 C123.30000000000001,416.2 126.80000000000001,418.2 127.80000000000001,422.2 C128.8,426.2 129.3,429.2 129.60000000000002,433.2" stroke="#000" stroke-width="1.1" fill="none" stroke-linejoin="round" />
<path d="M152.3,411.2 l3,-4 l1,3 l3,-4 M128.3,435.2 l-4,3 l3,1 l-4,3" stroke="#444" stroke-width="0.8" fill="none" stroke-linejoin="round" />
</g>
<circle cx="97.5" cy="466" r="5.6" fill="#fff" stroke="none"/>
<path d="M101.5,461.5 A4.6,4.6 0 1 0 101.5,470.5" stroke="#000" stroke-width="2.4" fill="none" stroke-linejoin="round" />
<circle cx="241.5" cy="440" r="6" fill="#fff" stroke="none"/>
<path d="M238.5,434.5 H241.5 A5.2,5.2 0 0 1 241.5,445 H238.5" stroke="#000" stroke-width="2.4" fill="none" stroke-linejoin="round" />
<circle cx="170.30" cy="453.20" r="2.90" stroke="#000" stroke-width="2.2" fill="none"/>
<line x1="311.20" y1="313.00" x2="311.20" y2="386.00" stroke="#4a4a4a" stroke-width="1.0"/>
<line x1="398.20" y1="313.00" x2="398.20" y2="386.00" stroke="#4a4a4a" stroke-width="1.0"/>
<path d="M311.20,319.10 L321.20,313.40 L321.20,324.80 Z" fill="#1a1a1a"/>
<line x1="320.00" y1="319.10" x2="343.30" y2="319.10" stroke="#4a4a4a" stroke-width="1.0"/>
<text x="346.75" y="325.24" font-size="15.2" fill="#000" letter-spacing="0.344">80</text>
<line x1="366.30" y1="319.10" x2="389.00" y2="319.10" stroke="#4a4a4a" stroke-width="1.0"/>
<path d="M398.20,319.10 L388.20,324.80 L388.20,313.40 Z" fill="#1a1a1a"/>
<line x1="332.90" y1="381.50" x2="332.90" y2="385.00" stroke="#4a4a4a" stroke-width="1.0"/>
<path d="M332.60,335.90 L342.60,330.20 L342.60,341.60 Z" fill="#1a1a1a"/>
<line x1="342.00" y1="335.90" x2="354.20" y2="335.90" stroke="#4a4a4a" stroke-width="1.0"/>
<text x="355.49" y="342.24" font-size="15.2" fill="#000" letter-spacing="1.820">59</text>
<line x1="375.50" y1="335.90" x2="389.00" y2="335.90" stroke="#4a4a4a" stroke-width="1.0"/>
<path d="M398.20,335.90 L388.20,341.60 L388.20,330.20 Z" fill="#1a1a1a"/>
<text x="263.02" y="359.24" font-size="15.2" fill="#000" letter-spacing="0.661">3 /4 /5 </text>
<path d="M275.95,359.24 h1.12 v-10.46 h-1.12 Z M277.29,348.79 L275.95,348.79 L273.66,350.81 L273.66,351.80 L276.09,350.28 Z M299.06,359.24 h1.12 v-10.46 h-1.12 Z M300.40,348.79 L299.06,348.79 L296.77,350.81 L296.77,351.80 L299.20,350.28 Z M322.18,359.24 h1.12 v-10.46 h-1.12 Z M323.51,348.79 L322.18,348.79 L319.88,350.81 L319.88,351.80 L322.31,350.28 Z" fill="#000"/>
<line x1="324.00" y1="353.10" x2="332.60" y2="353.10" stroke="#4a4a4a" stroke-width="1.0"/>
<path d="M332.60,353.10 L342.60,347.40 L342.60,358.80 Z" fill="#1a1a1a"/>
<line x1="342.00" y1="353.10" x2="381.00" y2="353.10" stroke="#4a4a4a" stroke-width="1.0"/>
<path d="M390.20,353.10 L380.20,358.80 L380.20,347.40 Z" fill="#1a1a1a"/>
<line x1="390.20" y1="346.50" x2="390.20" y2="372.00" stroke="#4a4a4a" stroke-width="1.0"/>
<line x1="377.00" y1="362.40" x2="389.00" y2="362.40" stroke="#4a4a4a" stroke-width="1.0"/>
<path d="M398.20,362.40 L388.20,368.10 L388.20,356.70 Z" fill="#1a1a1a"/>
<text x="403.64" y="367.74" font-size="15.2" fill="#000" letter-spacing="3.111">28</text>
<path d="M428.70,362.40 L438.70,356.70 L438.70,368.10 Z" fill="#1a1a1a"/>
<line x1="438.00" y1="362.40" x2="450.00" y2="362.40" stroke="#4a4a4a" stroke-width="1.0"/>
<line x1="428.70" y1="354.50" x2="428.70" y2="387.00" stroke="#4a4a4a" stroke-width="1.0"/>
<text x="319.21" y="380.40" font-size="14.5" fill="#000" textLength="6.93" lengthAdjust="spacingAndGlyphs">R</text>
<text x="328.99" y="380.40" font-size="14.5" fill="#000" textLength="7.91" lengthAdjust="spacingAndGlyphs">p</text>
<text x="339.36" y="380.40" font-size="14.5" fill="#000" textLength="12.47" lengthAdjust="spacingAndGlyphs">¾</text>
<line x1="332.90" y1="326.60" x2="332.90" y2="368.30" stroke="#4a4a4a" stroke-width="1.0"/>
<line x1="279.40" y1="391.20" x2="311.20" y2="391.20" stroke="#4a4a4a" stroke-width="1.0"/>
<line x1="279.40" y1="515.40" x2="311.20" y2="515.40" stroke="#4a4a4a" stroke-width="1.0"/>
<path d="M286.50,391.20 L292.20,401.20 L280.80,401.20 Z" fill="#1a1a1a"/>
<line x1="286.50" y1="400.50" x2="286.50" y2="432.80" stroke="#4a4a4a" stroke-width="1.0"/>
<text x="284.88" y="473.04" font-size="15.2" fill="#000" letter-spacing="2.816" transform="rotate(-90 286.40 467.80)">  4</text>
<path d="M288.70,473.04 h1.12 v-10.46 h-1.12 Z M290.03,462.59 L288.70,462.59 L286.40,464.61 L286.40,465.60 L288.83,464.08 Z M299.96,473.04 h1.12 v-10.46 h-1.12 Z M301.30,462.59 L299.96,462.59 L297.67,464.61 L297.67,465.60 L300.10,464.08 Z" fill="#000" transform="rotate(-90 286.40 467.80)"/>
<line x1="286.50" y1="478.30" x2="286.50" y2="506.00" stroke="#4a4a4a" stroke-width="1.0"/>
<path d="M286.50,515.40 L280.80,505.40 L292.20,505.40 Z" fill="#1a1a1a"/>
<text x="306.06" y="471.70" font-size="15" fill="#000" textLength="7.42" lengthAdjust="spacingAndGlyphs" transform="rotate(-90 306.90 471.70)">R</text>
<text x="306.00" y="461.40" font-size="15" fill="#000" textLength="7.79" lengthAdjust="spacingAndGlyphs" transform="rotate(-90 306.90 461.40)">p</text>
<text x="306.35" y="451.40" font-size="15" fill="#000" textLength="12.68" lengthAdjust="spacingAndGlyphs" transform="rotate(-90 306.90 451.40)">¾</text>
<line x1="311.50" y1="385.30" x2="355.00" y2="385.30" stroke="#000" stroke-width="2.4"/>
<line x1="311.50" y1="520.40" x2="355.00" y2="520.40" stroke="#555" stroke-width="3.0"/>
<line x1="311.60" y1="384.50" x2="311.60" y2="521.50" stroke="#000" stroke-width="2.0"/>
<rect x="350.00" y="385.50" width="5.00" height="5.50" rx="0" stroke="#000" stroke-width="1.3" fill="none"/>
<rect x="350.00" y="515.00" width="5.00" height="5.50" rx="0" stroke="#000" stroke-width="1.3" fill="none"/>
<path d="M355,386.5 q2,-2 4,0 q2,2 4,0 q2,-2 4,0 q2,2 4,0" stroke="#000" stroke-width="1.3" fill="none" stroke-linejoin="round" />
<path d="M355,520.8 q2,2 4,0 q2,-2 4,0 q2,2 4,0 q2,-2 4,0" stroke="#000" stroke-width="1.3" fill="none" stroke-linejoin="round" />
<path d="M322.5,388.6 H349 M326,390.5 H346" stroke="#666" stroke-width="1.0" fill="none" stroke-linejoin="round" />
<path d="M322.5,517.5 H349 M326,515.6 H346" stroke="#666" stroke-width="1.0" fill="none" stroke-linejoin="round" />
<rect x="311.60" y="385.50" width="10.80" height="33.80" rx="0" stroke="#000" stroke-width="1.5" fill="none"/>
<line x1="311.60" y1="405.20" x2="322.40" y2="405.20" stroke="#333" stroke-width="1.2"/>
<rect x="311.60" y="486.50" width="10.80" height="32.10" rx="0" stroke="#000" stroke-width="1.5" fill="none"/>
<line x1="311.60" y1="501.70" x2="322.40" y2="501.70" stroke="#333" stroke-width="1.2"/>
<line x1="314.50" y1="392.00" x2="322.00" y2="388.00" stroke="#444" stroke-width="0.9"/>
<line x1="314.50" y1="496.00" x2="317.00" y2="489.00" stroke="#444" stroke-width="0.9"/>
<line x1="332.8" y1="395" x2="332.8" y2="512" stroke="#555" stroke-width="1.1" stroke-dasharray="5,4"/>
<line x1="351.2" y1="398" x2="351.2" y2="422" stroke="#555" stroke-width="1.1" stroke-dasharray="4,3"/>
<line x1="351.2" y1="484" x2="351.2" y2="510" stroke="#555" stroke-width="1.1" stroke-dasharray="4,3"/>
<path d="M327,406.8 H341 M345,406.8 H349 V400" stroke="#444" stroke-width="1.0" fill="none" stroke-linejoin="round" />
<path d="M327,499.5 H341 M345,499.5 H349 V505" stroke="#444" stroke-width="1.0" fill="none" stroke-linejoin="round" />
<circle cx="333.50" cy="452.40" r="21.30" stroke="#000" stroke-width="2.4" fill="none"/>
<circle cx="333.50" cy="452.40" r="18.80" stroke="#000" stroke-width="1.8" fill="none"/>
<circle cx="333.5" cy="452.4" r="15.2" stroke="#222" stroke-width="1.2" fill="none" stroke-dasharray="4,2"/>
<circle cx="333.50" cy="452.40" r="11.30" stroke="#000" stroke-width="1.0" fill="none"/>
<circle cx="333.50" cy="452.40" r="7.50" stroke="#000" stroke-width="1.1" fill="none"/>
<line x1="333.50" y1="445.00" x2="333.50" y2="460.00" stroke="#333" stroke-width="0.9"/>
<line x1="321.00" y1="424.00" x2="326.00" y2="434.00" stroke="#444" stroke-width="0.9"/>
<line x1="321.00" y1="481.00" x2="326.00" y2="471.00" stroke="#444" stroke-width="0.9"/>
<rect x="342.50" y="426.50" width="12.50" height="11.40" rx="1.5" stroke="#000" stroke-width="1.5" fill="#fff"/>
<circle cx="349.00" cy="432.40" r="1.70" stroke="#000" stroke-width="1.1" fill="none"/>
<rect x="342.50" y="467.00" width="12.50" height="11.40" rx="1.5" stroke="#000" stroke-width="1.5" fill="#fff"/>
<circle cx="349.00" cy="472.90" r="1.70" stroke="#000" stroke-width="1.1" fill="none"/>
<line x1="358.30" y1="386.00" x2="358.30" y2="516.00" stroke="#222" stroke-width="1.4"/>
<path d="M358.3,430.9 H372.4" stroke="#000" stroke-width="1.8" fill="none" stroke-linejoin="round" />
<path d="M358.3,515.9 H372.4" stroke="#777" stroke-width="2.2" fill="none" stroke-linejoin="round" />
<path d="M360.4,388 L367,390 V403 L363.5,401 Z" stroke="#000" stroke-width="1.4" fill="none" stroke-linejoin="round" />
<path d="M360.4,480 V488 L366,496.3 L367,494 V480" stroke="#000" stroke-width="1.4" fill="none" stroke-linejoin="round" />
<path d="M358.6,440 Q360,439 361.5,440 V462 Q362.5,464.6 361.5,467 V478" stroke="#000" stroke-width="1.3" fill="none" stroke-linejoin="round" />
<path d="M366.4,440 Q368,439 370.2,440 V461 Q371.5,464.6 370.2,468 V476 L366.4,490" stroke="#000" stroke-width="1.3" fill="none" stroke-linejoin="round" />
<path d="M372.4,386 Q373,384 375,384 H384.6" stroke="#000" stroke-width="1.6" fill="none" stroke-linejoin="round" />
<line x1="372.40" y1="385.00" x2="372.40" y2="521.80" stroke="#000" stroke-width="1.6"/>
<line x1="372.40" y1="400.40" x2="384.60" y2="400.40" stroke="#000" stroke-width="2.0"/>
<line x1="372.40" y1="403.50" x2="384.60" y2="403.50" stroke="#000" stroke-width="1.6"/>
<line x1="372.40" y1="431.00" x2="384.60" y2="431.00" stroke="#000" stroke-width="2.4"/>
<line x1="372.40" y1="439.60" x2="384.60" y2="441.50" stroke="#333" stroke-width="1.0"/>
<line x1="372.40" y1="461.00" x2="384.60" y2="461.00" stroke="#000" stroke-width="1.6"/>
<path d="M374,461 L376,476 L373,478 M379,461 V478" stroke="#000" stroke-width="1.2" fill="none" stroke-linejoin="round" />
<line x1="372.40" y1="483.00" x2="384.60" y2="483.00" stroke="#000" stroke-width="1.4"/>
<line x1="372.40" y1="500.70" x2="384.60" y2="500.70" stroke="#000" stroke-width="2.0"/>
<line x1="372.40" y1="503.60" x2="384.60" y2="503.60" stroke="#000" stroke-width="1.6"/>
<line x1="372.40" y1="521.80" x2="384.60" y2="521.80" stroke="#000" stroke-width="2.0"/>
<rect x="384.6" y="371.2" width="5.8" height="164.2" rx="1" fill="#2a2a2a"/>
<rect x="386.4" y="373" width="1.0" height="160" fill="#888"/>
<rect x="384.6" y="397.5" width="5.8" height="2.6" fill="#e8e8e8"/>
<rect x="384.6" y="506.5" width="5.8" height="2.6" fill="#e8e8e8"/>
<path d="M390.4,386.8 H428.7 V519.7 H390.4" stroke="#000" stroke-width="1.5" fill="none" stroke-linejoin="round" />
<path d="M398,505.5 V401.3 H428.7" stroke="#000" stroke-width="1.4" fill="none" stroke-linejoin="round" />
<line x1="398.00" y1="505.50" x2="428.70" y2="505.50" stroke="#000" stroke-width="1.4"/>
<path d="M428.7,402.5 H432 Q433.5,402.5 433.5,404 V409 Q433.5,410.7 432,410.7 H428.7" stroke="#000" stroke-width="1.3" fill="none" stroke-linejoin="round" />
<path d="M428.7,495.3 H432 Q433.5,495.3 433.5,497 V501.5 Q433.5,503.2 432,503.2 H428.7" stroke="#000" stroke-width="1.3" fill="none" stroke-linejoin="round" />
<text x="405.30" y="489.89" font-size="5" text-anchor="middle" fill="#1a1a1a" transform="rotate(-90 405.30 488.10)">min.</text>
<text x="424.00" y="489.49" font-size="5" text-anchor="middle" fill="#1a1a1a" transform="rotate(-90 424.00 487.70)">max.</text>
<line x1="400.00" y1="494.40" x2="412.60" y2="494.40" stroke="#4a4a4a" stroke-width="0.8"/>
<path d="M398.30,494.40 L401.50,493.10 L401.50,495.70 Z" fill="#1a1a1a"/>
<line x1="414.00" y1="479.80" x2="426.00" y2="479.80" stroke="#4a4a4a" stroke-width="0.8"/>
<path d="M428.30,479.80 L425.10,481.10 L425.10,478.50 Z" fill="#1a1a1a"/>
<text x="405.30" y="425.09" font-size="5" text-anchor="middle" fill="#1a1a1a" transform="rotate(-90 405.30 423.30)">min.</text>
<text x="424.00" y="422.39" font-size="5" text-anchor="middle" fill="#1a1a1a" transform="rotate(-90 424.00 420.60)">max.</text>
<line x1="400.00" y1="414.00" x2="412.60" y2="414.00" stroke="#4a4a4a" stroke-width="0.8"/>
<path d="M398.30,414.00 L401.50,412.70 L401.50,415.30 Z" fill="#1a1a1a"/>
<line x1="414.00" y1="428.20" x2="426.00" y2="428.20" stroke="#4a4a4a" stroke-width="0.8"/>
<path d="M428.30,428.20 L425.10,429.50 L425.10,426.90 Z" fill="#1a1a1a"/>
<line x1="431.00" y1="386.80" x2="463.00" y2="386.80" stroke="#4a4a4a" stroke-width="1.0"/>
<line x1="431.00" y1="519.70" x2="463.00" y2="519.70" stroke="#4a4a4a" stroke-width="1.0"/>
<path d="M455.00,386.80 L460.70,396.80 L449.30,396.80 Z" fill="#1a1a1a"/>
<line x1="455.00" y1="396.00" x2="455.00" y2="424.30" stroke="#4a4a4a" stroke-width="1.0"/>
<text x="452.98" y="462.44" font-size="15.2" fill="#000" letter-spacing="2.463" transform="rotate(-90 454.50 457.20)"> 22</text>
<path d="M456.80,462.44 h1.12 v-10.46 h-1.12 Z M458.13,451.99 L456.80,451.99 L454.50,454.01 L454.50,455.00 L456.93,453.48 Z" fill="#000" transform="rotate(-90 454.50 457.20)"/>
<circle cx="454.50" cy="475.60" r="5.5" stroke="#1a1a1a" stroke-width="1.2" fill="none"/>
<line x1="446.30" y1="470.60" x2="462.70" y2="480.60" stroke="#1a1a1a" stroke-width="1.2"/>
<line x1="455.00" y1="484.70" x2="455.00" y2="510.00" stroke="#4a4a4a" stroke-width="1.0"/>
<path d="M455.00,519.70 L449.30,509.70 L460.70,509.70 Z" fill="#1a1a1a"/>
<text x="318.55" y="533.50" font-size="13" fill="#000" textLength="9.24" lengthAdjust="spacingAndGlyphs">R</text>
<text x="329.62" y="533.50" font-size="13" fill="#000" textLength="6.80" lengthAdjust="spacingAndGlyphs">p</text>
<text x="338.52" y="533.50" font-size="13" fill="#000" textLength="13.50" lengthAdjust="spacingAndGlyphs">¾</text>
<line x1="311.60" y1="520.00" x2="311.60" y2="574.60" stroke="#4a4a4a" stroke-width="1.0"/>
<line x1="291.20" y1="547.60" x2="302.00" y2="547.60" stroke="#4a4a4a" stroke-width="1.0"/>
<path d="M311.60,547.60 L301.60,553.30 L301.60,541.90 Z" fill="#1a1a1a"/>
<text x="313.34" y="552.24" font-size="15.2" fill="#000" letter-spacing="2.566">2 </text>
<path d="M328.18,552.24 h1.12 v-10.46 h-1.12 Z M329.51,541.79 L328.18,541.79 L325.88,543.81 L325.88,544.80 L328.31,543.28 Z" fill="#000"/>
<path d="M332.80,547.60 L342.80,541.90 L342.80,553.30 Z" fill="#1a1a1a"/>
<line x1="342.00" y1="547.60" x2="351.60" y2="547.60" stroke="#4a4a4a" stroke-width="1.0"/>
<line x1="332.80" y1="537.00" x2="332.80" y2="555.80" stroke="#4a4a4a" stroke-width="1.0"/>
<line x1="370.20" y1="547.60" x2="380.00" y2="547.60" stroke="#4a4a4a" stroke-width="1.0"/>
<path d="M389.80,547.60 L379.80,553.30 L379.80,541.90 Z" fill="#1a1a1a"/>
<path d="M398.10,547.60 L408.10,541.90 L408.10,553.30 Z" fill="#1a1a1a"/>
<line x1="407.00" y1="547.60" x2="418.90" y2="547.60" stroke="#4a4a4a" stroke-width="1.0"/>
<line x1="389.80" y1="535.00" x2="389.80" y2="555.00" stroke="#4a4a4a" stroke-width="1.0"/>
<line x1="398.10" y1="505.00" x2="398.10" y2="555.00" stroke="#4a4a4a" stroke-width="1.0"/>
<text x="421.05" y="552.24" font-size="15.2" fill="#000" letter-spacing="1.017">8/ 8/28</text>
<path d="M439.57,552.24 h1.12 v-10.46 h-1.12 Z M440.91,541.79 L439.57,541.79 L437.28,543.81 L437.28,544.80 L439.71,543.28 Z" fill="#000"/>
<path d="M311.60,565.70 L321.60,560.00 L321.60,571.40 Z" fill="#1a1a1a"/>
<line x1="321.00" y1="565.70" x2="343.50" y2="565.70" stroke="#4a4a4a" stroke-width="1.0"/>
<text x="351.78" y="571.24" font-size="15.2" fill="#000" letter-spacing="1.960"> 08</text>
<path d="M355.60,571.24 h1.12 v-10.46 h-1.12 Z M356.93,560.79 L355.60,560.79 L353.30,562.81 L353.30,563.80 L355.73,562.28 Z" fill="#000"/>
<line x1="388.00" y1="565.70" x2="419.00" y2="565.70" stroke="#4a4a4a" stroke-width="1.0"/>
<path d="M428.60,565.70 L418.60,571.40 L418.60,560.00 Z" fill="#1a1a1a"/>
<line x1="428.60" y1="519.70" x2="428.60" y2="537.70" stroke="#4a4a4a" stroke-width="1.0"/>
<line x1="428.60" y1="557.00" x2="428.60" y2="574.60" stroke="#4a4a4a" stroke-width="1.0"/>
<path d="M173.8,629.8 H193.4 Q194.6,629.8 194.6,631 V791 Q194.6,792.2 193.4,792.2 H173.8 Z" stroke="#000" stroke-width="2.2" fill="none" stroke-linejoin="round" />
<line x1="194.40" y1="630.50" x2="194.40" y2="791.50" stroke="#000" stroke-width="3.0"/>
<line x1="210.60" y1="709.80" x2="232.20" y2="709.80" stroke="#444" stroke-width="0.9"/>
<rect x="196.80" y="720.60" width="35.40" height="48.00" rx="0" stroke="#000" stroke-width="2.0" fill="none"/>
<line x1="196.30" y1="720.00" x2="196.30" y2="769.00" stroke="#000" stroke-width="3.0"/>
<rect x="210.60" y="706.00" width="21.60" height="14.60" rx="0" stroke="#000" stroke-width="2.0" fill="none"/>
<rect x="208.30" y="768.60" width="10.60" height="4.20" rx="0" stroke="#000" stroke-width="1.5" fill="none"/>
<line x1="173.80" y1="604.70" x2="173.80" y2="629.80" stroke="#4a4a4a" stroke-width="1.0"/>
<line x1="194.40" y1="604.70" x2="194.40" y2="629.80" stroke="#4a4a4a" stroke-width="1.0"/>
<line x1="151.70" y1="613.90" x2="164.00" y2="613.90" stroke="#4a4a4a" stroke-width="1.0"/>
<path d="M173.80,613.90 L163.80,619.60 L163.80,608.20 Z" fill="#1a1a1a"/>
<text x="174.54" y="619.54" font-size="15.2" fill="#000" letter-spacing="2.350">20</text>
<path d="M194.40,613.90 L204.40,608.20 L204.40,619.60 Z" fill="#1a1a1a"/>
<line x1="204.00" y1="613.90" x2="216.00" y2="613.90" stroke="#4a4a4a" stroke-width="1.0"/>
<line x1="88.30" y1="629.80" x2="173.80" y2="629.80" stroke="#4a4a4a" stroke-width="1.0"/>
<line x1="88.30" y1="792.20" x2="173.80" y2="792.20" stroke="#4a4a4a" stroke-width="1.0"/>
<path d="M97.20,629.80 L102.90,639.80 L91.50,639.80 Z" fill="#1a1a1a"/>
<line x1="97.20" y1="639.00" x2="97.20" y2="677.00" stroke="#4a4a4a" stroke-width="1.0"/>
<text x="96.38" y="717.04" font-size="15.2" fill="#000" letter-spacing="1.730" transform="rotate(-90 97.90 711.80)"> 50</text>
<path d="M100.20,717.04 h1.12 v-10.46 h-1.12 Z M101.53,706.59 L100.20,706.59 L97.90,708.61 L97.90,709.60 L100.33,708.08 Z" fill="#000" transform="rotate(-90 97.90 711.80)"/>
<text x="97.37" y="740.54" font-size="15.2" fill="#000" transform="rotate(-90 97.90 735.30)">Ø</text>
<line x1="97.20" y1="742.00" x2="97.20" y2="783.00" stroke="#4a4a4a" stroke-width="1.0"/>
<path d="M97.20,792.20 L91.50,782.20 L102.90,782.20 Z" fill="#1a1a1a"/>
<path d="M124.40,629.80 L130.10,639.80 L118.70,639.80 Z" fill="#1a1a1a"/>
<line x1="124.40" y1="639.00" x2="124.40" y2="664.00" stroke="#4a4a4a" stroke-width="1.0"/>
<text x="123.88" y="703.64" font-size="15.2" fill="#000" letter-spacing="1.368" transform="rotate(-90 125.40 698.40)"> 06</text>
<path d="M127.70,703.64 h1.12 v-10.46 h-1.12 Z M129.03,693.19 L127.70,693.19 L125.40,695.21 L125.40,696.20 L127.83,694.68 Z" fill="#000" transform="rotate(-90 125.40 698.40)"/>
<line x1="124.40" y1="709.00" x2="124.40" y2="734.00" stroke="#4a4a4a" stroke-width="1.0"/>
<path d="M124.40,743.60 L118.70,733.60 L130.10,733.60 Z" fill="#1a1a1a"/>
<path d="M124.40,743.60 L130.10,753.60 L118.70,753.60 Z" fill="#1a1a1a"/>
<line x1="116.00" y1="743.60" x2="138.30" y2="743.60" stroke="#4a4a4a" stroke-width="1.0"/>
<text x="124.85" y="782.14" font-size="15.2" fill="#000" letter-spacing="4.288" transform="rotate(-90 125.20 776.90)">44</text>
<path d="M124.40,792.20 L118.70,782.20 L130.10,782.20 Z" fill="#1a1a1a"/>
<line x1="149.40" y1="699.00" x2="149.40" y2="711.00" stroke="#4a4a4a" stroke-width="1.0"/>
<path d="M149.40,720.00 L143.70,710.00 L155.10,710.00 Z" fill="#1a1a1a"/>
<line x1="141.00" y1="720.00" x2="170.00" y2="720.00" stroke="#4a4a4a" stroke-width="1.0"/>
<line x1="141.00" y1="768.60" x2="170.00" y2="768.60" stroke="#4a4a4a" stroke-width="1.0"/>
<text x="150.55" y="748.34" font-size="15.2" fill="#000" letter-spacing="1.988" transform="rotate(-90 150.90 743.10)">44</text>
<text x="150.37" y="771.14" font-size="15.2" fill="#000" transform="rotate(-90 150.90 765.90)">Ø</text>
<path d="M149.40,768.60 L155.10,778.60 L143.70,778.60 Z" fill="#1a1a1a"/>
<line x1="149.40" y1="777.00" x2="149.40" y2="790.80" stroke="#4a4a4a" stroke-width="1.0"/>
<line x1="160.60" y1="743.60" x2="171.70" y2="743.60" stroke="#4a4a4a" stroke-width="1.0"/>
<line x1="232.20" y1="706.00" x2="263.30" y2="706.00" stroke="#4a4a4a" stroke-width="1.0"/>
<line x1="232.20" y1="768.60" x2="263.30" y2="768.60" stroke="#4a4a4a" stroke-width="1.0"/>
<path d="M254.40,706.00 L260.10,716.00 L248.70,716.00 Z" fill="#1a1a1a"/>
<line x1="254.40" y1="715.00" x2="254.40" y2="726.00" stroke="#4a4a4a" stroke-width="1.0"/>
<text x="253.69" y="751.24" font-size="15.2" fill="#000" letter-spacing="2.566" transform="rotate(-90 254.30 746.00)">57</text>
<line x1="254.40" y1="749.00" x2="254.40" y2="759.00" stroke="#4a4a4a" stroke-width="1.0"/>
<path d="M254.40,768.60 L248.70,758.60 L260.10,758.60 Z" fill="#1a1a1a"/>
<line x1="173.80" y1="792.20" x2="173.80" y2="817.00" stroke="#4a4a4a" stroke-width="1.0"/>
<line x1="232.20" y1="768.60" x2="232.20" y2="817.00" stroke="#4a4a4a" stroke-width="1.0"/>
<line x1="150.80" y1="807.50" x2="164.00" y2="807.50" stroke="#4a4a4a" stroke-width="1.0"/>
<path d="M173.80,807.50 L163.80,813.20 L163.80,801.80 Z" fill="#1a1a1a"/>
<text x="178.29" y="812.44" font-size="15.2" fill="#000" letter-spacing="2.675">54-82</text>
<path d="M232.20,807.50 L242.20,801.80 L242.20,813.20 Z" fill="#1a1a1a"/>
<line x1="241.00" y1="807.50" x2="255.00" y2="807.50" stroke="#4a4a4a" stroke-width="1.0"/>
<line x1="610.60" y1="312.00" x2="610.60" y2="530.50" stroke="#4a4a4a" stroke-width="1.0"/>
<line x1="727.60" y1="312.00" x2="727.60" y2="347.90" stroke="#4a4a4a" stroke-width="1.0"/>
<path d="M610.60,321.80 L620.60,316.10 L620.60,327.50 Z" fill="#1a1a1a"/>
<line x1="620.00" y1="321.80" x2="652.00" y2="321.80" stroke="#4a4a4a" stroke-width="1.0"/>
<text x="656.28" y="327.34" font-size="15.2" fill="#000" letter-spacing="2.160"> 08</text>
<path d="M660.10,327.34 h1.12 v-10.46 h-1.12 Z M661.43,316.89 L660.10,316.89 L657.80,318.91 L657.80,319.90 L660.23,318.38 Z" fill="#000"/>
<line x1="691.00" y1="321.80" x2="718.00" y2="321.80" stroke="#4a4a4a" stroke-width="1.0"/>
<path d="M727.60,321.80 L717.60,327.50 L717.60,316.10 Z" fill="#1a1a1a"/>
<path d="M711.3,341 L727.7,345.3 L687.7,472.6 L701,494.3 L700.6,555" stroke="#000" stroke-width="2.2" fill="none" stroke-linejoin="round" />
<path d="M711.3,341 Q686,390 669.5,468.5 Q668.6,471 668.6,474 L670.5,555" stroke="#000" stroke-width="2.2" fill="none" stroke-linejoin="round" />
<path d="M727.7,345.3 L730.5,357 L729.3,368 L706.5,452 L700,458 L691.7,461 Z" stroke="#000" stroke-width="1.2" fill="#1e1e1e" stroke-linejoin="round" />
<path d="M722.5,367.4 l1.6,2.6 l-2.4,0.5 z" fill="#fff"/>
<path d="M719.2,377.7 l1.6,2.6 l-2.4,0.5 z" fill="#fff"/>
<path d="M716.0,388.0 l1.6,2.6 l-2.4,0.5 z" fill="#fff"/>
<path d="M712.8,398.3 l1.6,2.6 l-2.4,0.5 z" fill="#fff"/>
<path d="M709.5,408.6 l1.6,2.6 l-2.4,0.5 z" fill="#fff"/>
<path d="M706.3,418.9 l1.6,2.6 l-2.4,0.5 z" fill="#fff"/>
<path d="M703.1,429.2 l1.6,2.6 l-2.4,0.5 z" fill="#fff"/>
<path d="M699.8,439.5 l1.6,2.6 l-2.4,0.5 z" fill="#fff"/>
<path d="M696.6,449.8 l1.6,2.6 l-2.4,0.5 z" fill="#fff"/>
<path d="M702.8,467.8 V489.5 Q693.5,480 702.8,467.8 Z" stroke="#000" stroke-width="2.4" fill="none" stroke-linejoin="round" />
<path d="M698,458 Q699.5,462 703.5,464" stroke="#000" stroke-width="1.2" fill="none" stroke-linejoin="round" />
<path d="M671.50,469.00 L675.00,472.50 L670.00,473.00 Z" fill="#fff"/>
<line x1="685.70" y1="476.00" x2="685.70" y2="555.00" stroke="#333" stroke-width="0.9"/>
<path d="M683.6,480 L685.7,474.5 L687.8,480 Z" stroke="#555" stroke-width="0.8" fill="#fff" stroke-linejoin="round" />
<line x1="592.00" y1="512.00" x2="604.00" y2="512.00" stroke="#4a4a4a" stroke-width="1.0"/>
<path d="M613.20,512.00 L603.20,517.70 L603.20,506.30 Z" fill="#1a1a1a"/>
<path d="M622.60,512.00 L632.60,506.30 L632.60,517.70 Z" fill="#1a1a1a"/>
<line x1="632.00" y1="512.00" x2="637.20" y2="512.00" stroke="#4a4a4a" stroke-width="1.0"/>
<text x="645.15" y="517.04" font-size="15.2" fill="#000">8</text>
<line x1="622.40" y1="503.00" x2="622.40" y2="530.50" stroke="#4a4a4a" stroke-width="1.0"/>
<path d="M611.8,633.4 V534.5 Q611.8,530.5 615.5,530.5 H622.4 V551 Q622.4,555 626,555 M626,608.3 Q622.4,608.3 622.4,612 V629.5 Q622.4,633.4 618.5,633.4 H611.8" stroke="#000" stroke-width="2.2" fill="none" stroke-linejoin="round" />
<line x1="611.80" y1="533.00" x2="611.80" y2="633.00" stroke="#000" stroke-width="2.8"/>
<rect x="537.70" y="570.60" width="73.80" height="23.60" rx="0" stroke="#000" stroke-width="1.8" fill="none"/>
<line x1="541.80" y1="571.80" x2="541.80" y2="593.20" stroke="#222" stroke-width="1.2"/>
<line x1="546.10" y1="571.80" x2="546.10" y2="593.20" stroke="#222" stroke-width="1.2"/>
<line x1="550.40" y1="571.80" x2="550.40" y2="593.20" stroke="#222" stroke-width="1.2"/>
<line x1="554.70" y1="571.80" x2="554.70" y2="593.20" stroke="#222" stroke-width="1.2"/>
<line x1="559.00" y1="571.80" x2="559.00" y2="593.20" stroke="#222" stroke-width="1.2"/>
<line x1="563.30" y1="571.80" x2="563.30" y2="593.20" stroke="#222" stroke-width="1.2"/>
<line x1="567.60" y1="571.80" x2="567.60" y2="593.20" stroke="#222" stroke-width="1.2"/>
<line x1="571.90" y1="571.80" x2="571.90" y2="593.20" stroke="#222" stroke-width="1.2"/>
<line x1="576.20" y1="571.80" x2="576.20" y2="593.20" stroke="#222" stroke-width="1.2"/>
<line x1="580.50" y1="571.80" x2="580.50" y2="593.20" stroke="#222" stroke-width="1.2"/>
<line x1="584.80" y1="571.80" x2="584.80" y2="593.20" stroke="#222" stroke-width="1.2"/>
<line x1="589.10" y1="571.80" x2="589.10" y2="593.20" stroke="#222" stroke-width="1.2"/>
<line x1="593.40" y1="571.80" x2="593.40" y2="593.20" stroke="#222" stroke-width="1.2"/>
<line x1="597.70" y1="571.80" x2="597.70" y2="593.20" stroke="#222" stroke-width="1.2"/>
<line x1="602.00" y1="571.80" x2="602.00" y2="593.20" stroke="#222" stroke-width="1.2"/>
<line x1="606.30" y1="571.80" x2="606.30" y2="593.20" stroke="#222" stroke-width="1.2"/>
<path d="M624.6,555 H698.4 V608.3 H624.6" stroke="#000" stroke-width="2.0" fill="none" stroke-linejoin="round" />
<line x1="623.60" y1="555.00" x2="623.60" y2="608.30" stroke="#000" stroke-width="1.2"/>
<line x1="627.20" y1="556.00" x2="627.20" y2="607.50" stroke="#444" stroke-width="1.0"/>
<line x1="684.30" y1="556.00" x2="684.30" y2="607.50" stroke="#444" stroke-width="1.0"/>
<line x1="699.40" y1="555.00" x2="699.40" y2="578.00" stroke="#000" stroke-width="2.4"/>
<rect x="645.00" y="608.30" width="24.50" height="8.00" rx="0" stroke="#000" stroke-width="1.5" fill="none"/>
<path d="M645.5,615.5 H669 V625 L667.5,627.2 H647 L645.5,625 Z" fill="#262626"/>
<rect x="650" y="618.2" width="14" height="0.9" fill="#888"/>
<rect x="675.80" y="609.50" width="20.40" height="4.50" rx="0" stroke="#000" stroke-width="1.8" fill="none"/>
<line x1="677.60" y1="614.00" x2="677.60" y2="695.00" stroke="#000" stroke-width="1.8"/>
<line x1="694.10" y1="614.00" x2="694.10" y2="695.00" stroke="#000" stroke-width="1.8"/>
<path d="M675.2,695.2 H698.2 V721.2 H672.6 Z" stroke="#000" stroke-width="2.2" fill="none" stroke-linejoin="round" />
<line x1="511.00" y1="530.50" x2="611.50" y2="530.50" stroke="#4a4a4a" stroke-width="1.0"/>
<line x1="511.00" y1="633.40" x2="611.50" y2="633.40" stroke="#4a4a4a" stroke-width="1.0"/>
<path d="M518.80,530.50 L524.50,540.50 L513.10,540.50 Z" fill="#1a1a1a"/>
<line x1="518.80" y1="540.00" x2="518.80" y2="558.00" stroke="#4a4a4a" stroke-width="1.0"/>
<text x="518.29" y="587.94" font-size="15.2" fill="#000" letter-spacing="3.750" transform="rotate(-90 519.00 582.70)">95</text>
<text x="518.47" y="604.44" font-size="15.2" fill="#000" transform="rotate(-90 519.00 599.20)">Ø</text>
<line x1="518.80" y1="603.00" x2="518.80" y2="624.00" stroke="#4a4a4a" stroke-width="1.0"/>
<path d="M518.80,633.40 L513.10,623.40 L524.50,623.40 Z" fill="#1a1a1a"/>
<line x1="537.70" y1="594.00" x2="537.70" y2="619.30" stroke="#4a4a4a" stroke-width="1.0"/>
<path d="M537.70,611.50 L547.70,605.80 L547.70,617.20 Z" fill="#1a1a1a"/>
<line x1="547.00" y1="611.50" x2="563.00" y2="611.50" stroke="#4a4a4a" stroke-width="1.0"/>
<text x="566.02" y="616.94" font-size="15.2" fill="#000" letter-spacing="3.766">70</text>
<line x1="591.00" y1="611.50" x2="602.00" y2="611.50" stroke="#4a4a4a" stroke-width="1.0"/>
<path d="M611.50,611.50 L601.50,617.20 L601.50,605.80 Z" fill="#1a1a1a"/>
<line x1="698.40" y1="555.00" x2="740.20" y2="555.00" stroke="#4a4a4a" stroke-width="1.0"/>
<line x1="698.40" y1="608.30" x2="740.20" y2="608.30" stroke="#4a4a4a" stroke-width="1.0"/>
<path d="M730.80,555.00 L736.50,565.00 L725.10,565.00 Z" fill="#1a1a1a"/>
<line x1="730.80" y1="564.00" x2="730.80" y2="569.00" stroke="#4a4a4a" stroke-width="1.0"/>
<text x="730.75" y="596.94" font-size="15.2" fill="#000" letter-spacing="3.462" transform="rotate(-90 731.10 591.70)">49</text>
<line x1="730.80" y1="594.00" x2="730.80" y2="599.00" stroke="#4a4a4a" stroke-width="1.0"/>
<path d="M730.80,608.30 L725.10,598.30 L736.50,598.30 Z" fill="#1a1a1a"/>
<text x="564.04" y="652.74" font-size="15.2" fill="#000">G</text>
<text x="585.08" y="652.74" font-size="15.2" fill="#000" letter-spacing="4.426"> /2</text>
<path d="M588.90,652.74 h1.12 v-10.46 h-1.12 Z M590.23,642.29 L588.90,642.29 L586.60,644.31 L586.60,645.30 L589.03,643.78 Z" fill="#000"/>
<line x1="620.90" y1="646.60" x2="636.00" y2="646.60" stroke="#4a4a4a" stroke-width="1.0"/>
<path d="M645.00,646.60 L635.00,652.30 L635.00,640.90 Z" fill="#1a1a1a"/>
<path d="M669.50,646.60 L679.50,640.90 L679.50,652.30 Z" fill="#1a1a1a"/>
<line x1="679.00" y1="646.60" x2="690.00" y2="646.60" stroke="#4a4a4a" stroke-width="1.0"/>
<line x1="645.00" y1="627.00" x2="645.00" y2="655.40" stroke="#4a4a4a" stroke-width="1.0"/>
<line x1="669.50" y1="627.00" x2="669.50" y2="655.40" stroke="#4a4a4a" stroke-width="1.0"/>
<line x1="613.70" y1="657.00" x2="613.70" y2="740.20" stroke="#4a4a4a" stroke-width="1.0"/>
<line x1="658.60" y1="628.70" x2="658.60" y2="680.50" stroke="#4a4a4a" stroke-width="1.0"/>
<path d="M613.70,672.00 L623.70,666.30 L623.70,677.70 Z" fill="#1a1a1a"/>
<text x="626.05" y="678.04" font-size="15.2" fill="#000" letter-spacing="3.856">4 </text>
<path d="M642.18,678.04 h1.12 v-10.46 h-1.12 Z M643.51,667.59 L642.18,667.59 L639.88,669.61 L639.88,670.60 L642.31,669.08 Z" fill="#000"/>
<path d="M658.60,672.00 L648.60,677.70 L648.60,666.30 Z" fill="#1a1a1a"/>
<path d="M613.70,732.30 L623.70,726.60 L623.70,738.00 Z" fill="#1a1a1a"/>
<line x1="623.00" y1="732.30" x2="640.00" y2="732.30" stroke="#4a4a4a" stroke-width="1.0"/>
<text x="647.42" y="737.94" font-size="15.2" fill="#000" letter-spacing="2.626">78</text>
<line x1="674.00" y1="732.30" x2="689.00" y2="732.30" stroke="#4a4a4a" stroke-width="1.0"/>
<path d="M698.40,732.30 L688.40,738.00 L688.40,726.60 Z" fill="#1a1a1a"/>
<line x1="698.40" y1="722.00" x2="698.40" y2="740.20" stroke="#4a4a4a" stroke-width="1.0"/>
</svg></body></html>
